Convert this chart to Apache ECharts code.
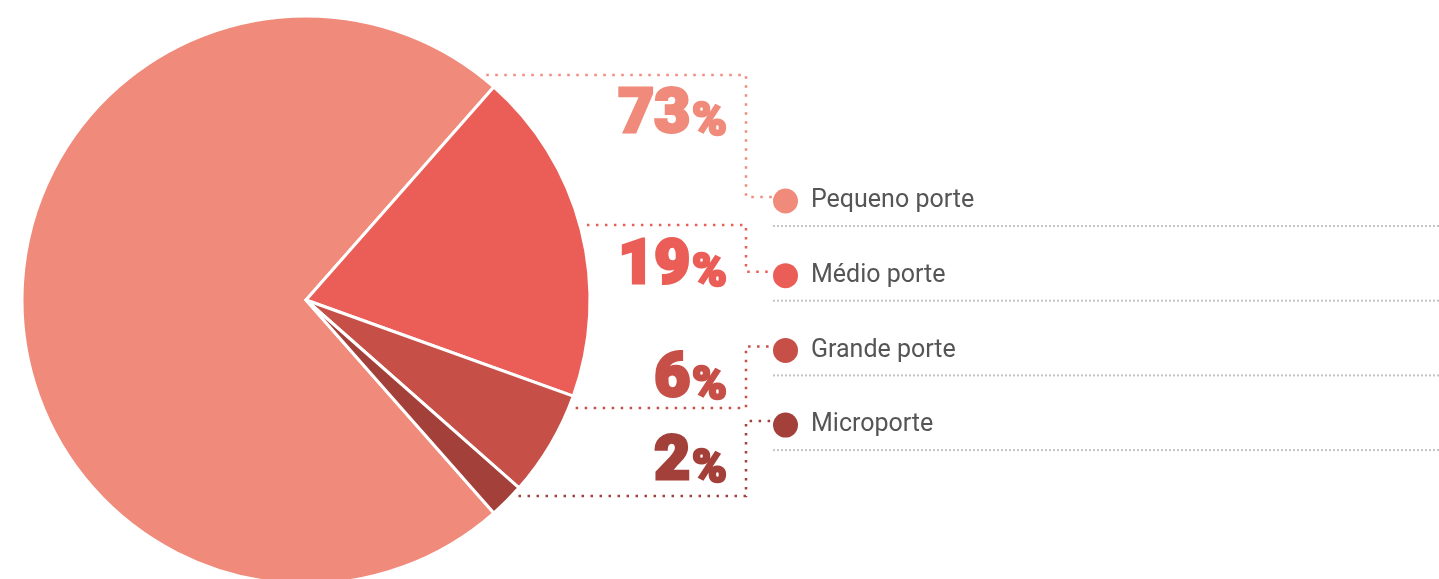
<!DOCTYPE html>
<html>
<head>
<meta charset="utf-8">
<script src="https://cdn.jsdelivr.net/npm/echarts@6/dist/echarts.min.js"></script>
<style>
  html, body { margin: 0; padding: 0; background: #fff; }
  #chart { width: 1439px; height: 579px; }
</style>
</head>
<body>
<div id="chart"></div>
<script>
// data
var categories = ['Pequeno porte', 'Médio porte', 'Grande porte', 'Microporte'];
var shares = [73, 19, 6, 2];
var colors = ['#F08B7B', '#EA5E57', '#C65048', '#A4403A'];

// layout of the label column (design positions)
var cx = 306, cy = 300, radius = 284;
var lineStartY = [75, 225, 408, 496];   // where each leader leaves the pie
var textMidY = [116, 267, 380, 463];    // vertical centre of the big numbers
var legendTop = 184.5, legendStep = 74.7, dotSize = 25, textPadTop = 8;

var dom = document.getElementById('chart');
var myChart = echarts.init(dom);

var pieData = categories.map(function (name, i) {
    return {
        name: name,
        value: shares[i],
        itemStyle: { color: colors[i] },
        label: {
            rich: {
                n: { color: colors[i], textBorderColor: colors[i] },
                p: { color: colors[i], textBorderColor: colors[i] }
            }
        },
        labelLine: { lineStyle: { color: colors[i] } }
    };
});

// dotted separators under each legend row
var separators = categories.map(function (name, i) {
    var y = 226 + i * legendStep;
    return {
        type: 'line',
        shape: { x1: 773, y1: y, x2: 1439, y2: y },
        style: { stroke: '#c4c4c4', lineWidth: 2, lineDash: [2, 2] },
        silent: true
    };
});

var option = {
    animation: false,
    backgroundColor: '#ffffff',
    legend: {
        orient: 'vertical',
        left: 773,
        top: legendTop,
        padding: 0,
        icon: 'circle',
        itemWidth: dotSize,
        itemHeight: dotSize,
        itemGap: legendStep - dotSize - textPadTop,
        itemStyle: { borderWidth: 0 },
        selectedMode: false,
        data: categories,
        textStyle: {
            fontFamily: 'Roboto',
            fontSize: 25,
            color: '#555555',
            lineHeight: dotSize,
            padding: [textPadTop, 0, 0, 8]
        }
    },
    graphic: separators,
    series: [{
        type: 'pie',
        center: [cx, cy],
        radius: radius,
        startAngle: 311.4,
        clockwise: true,
        avoidLabelOverlap: false,
        itemStyle: { borderColor: '#ffffff', borderWidth: 3 },
        label: {
            show: true,
            position: 'outside',
            formatter: function (p) { return '{n|' + p.value + '}{p|%}'; },
            rich: {
                n: { fontFamily: 'Roboto', fontWeight: 900, fontSize: 62, textBorderWidth: 3, verticalAlign: 'bottom', lineHeight: 62 },
                p: { fontFamily: 'Roboto', fontWeight: 900, fontSize: 47, textBorderWidth: 2.5, verticalAlign: 'bottom', lineHeight: 55, padding: [0, 0, 0, 2] }
            }
        },
        labelLine: {
            show: true,
            lineStyle: { width: 2.5, type: [2.5, 6.5] }
        },
        labelLayout: function (params) {
            var i = params.dataIndex;
            var y0 = lineStartY[i];
            var edgeX = cx + Math.sqrt(radius * radius - (y0 - cy) * (y0 - cy)) - 2;
            var yLeg = legendTop + dotSize / 2 + i * legendStep;
            return {
                x: 727,
                y: textMidY[i],
                align: 'right',
                verticalAlign: 'middle',
                labelLinePoints: [[edgeX, y0], [746, y0], [746, yLeg], [774, yLeg]]
            };
        },
        data: pieData
    }]
};

myChart.setOption(option);
window.addEventListener('resize', function () { myChart.resize(); });
</script>
</body>
</html>
